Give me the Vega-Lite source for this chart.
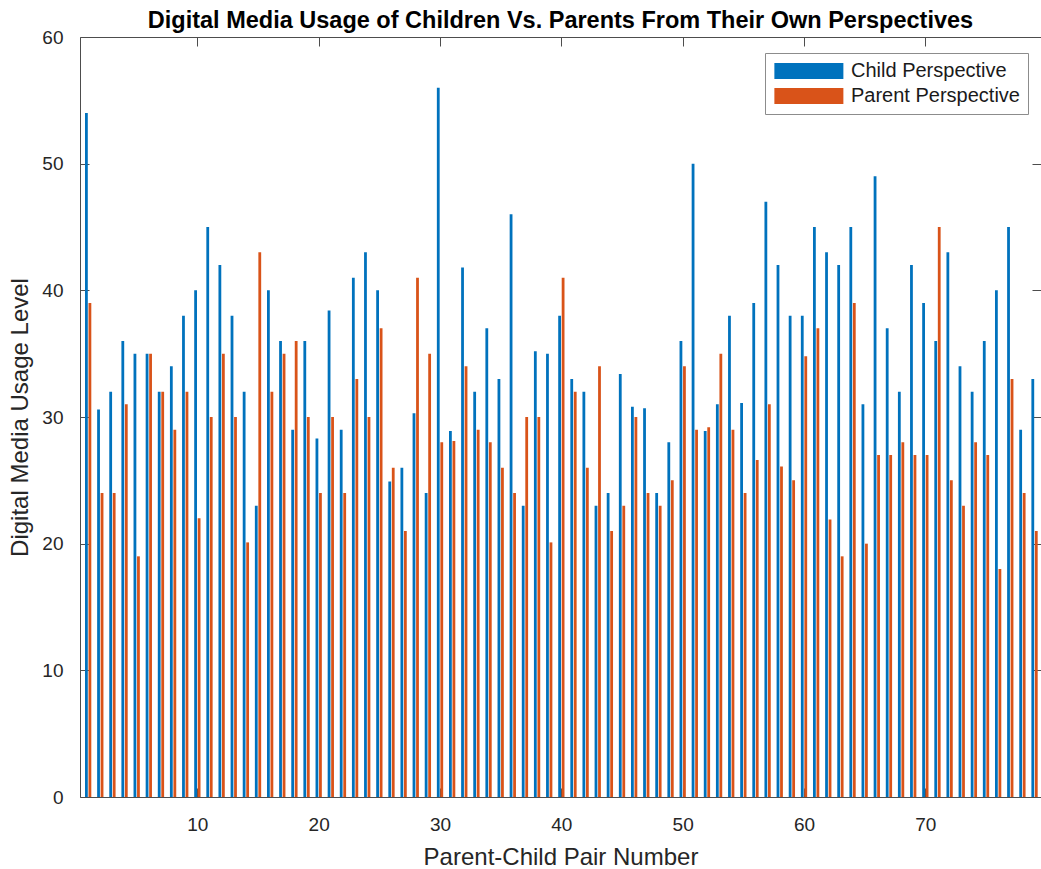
{
  "$schema": "https://vega.github.io/schema/vega-lite/v6.json",
  "width": 961,
  "height": 760,
  "autosize": {"type": "none"},
  "padding": {"left": 80, "top": 37, "right": 0, "bottom": 72},
  "background": "white",
  "config": {
    "view": {"stroke": null},
    "font": "Liberation Sans",
    "axis": {
      "grid": false,
      "domainColor": "#4d4d4d",
      "domainWidth": 1,
      "tickColor": "#4d4d4d",
      "tickWidth": 1,
      "tickSize": -9,
      "labelColor": "#262626",
      "labelFontSize": 19,
      "titleColor": "#262626",
      "titleFontSize": 24,
      "titleFontWeight": "normal"
    }
  },
  "title": {
    "text": "Digital Media Usage of Children Vs. Parents From Their Own Perspectives",
    "fontSize": 23.5,
    "fontWeight": "bold",
    "color": "#000000",
    "anchor": "middle",
    "offset": -4
  },
  "data": {
    "values": [
      {"pair": 1, "child": 54, "parent": 39},
      {"pair": 2, "child": 30.6, "parent": 24},
      {"pair": 3, "child": 32, "parent": 24},
      {"pair": 4, "child": 36, "parent": 31},
      {"pair": 5, "child": 35, "parent": 19},
      {"pair": 6, "child": 35, "parent": 35},
      {"pair": 7, "child": 32, "parent": 32},
      {"pair": 8, "child": 34, "parent": 29},
      {"pair": 9, "child": 38, "parent": 32},
      {"pair": 10, "child": 40, "parent": 22},
      {"pair": 11, "child": 45, "parent": 30},
      {"pair": 12, "child": 42, "parent": 35},
      {"pair": 13, "child": 38, "parent": 30},
      {"pair": 14, "child": 32, "parent": 20.1},
      {"pair": 15, "child": 23, "parent": 43},
      {"pair": 16, "child": 40, "parent": 32},
      {"pair": 17, "child": 36, "parent": 35},
      {"pair": 18, "child": 29, "parent": 36},
      {"pair": 19, "child": 36, "parent": 30},
      {"pair": 20, "child": 28.3, "parent": 24},
      {"pair": 21, "child": 38.4, "parent": 30},
      {"pair": 22, "child": 29, "parent": 24},
      {"pair": 23, "child": 41, "parent": 33},
      {"pair": 24, "child": 43, "parent": 30},
      {"pair": 25, "child": 40, "parent": 37},
      {"pair": 26, "child": 24.9, "parent": 26},
      {"pair": 27, "child": 26, "parent": 21},
      {"pair": 28, "child": 30.3, "parent": 41},
      {"pair": 29, "child": 24, "parent": 35},
      {"pair": 30, "child": 56, "parent": 28},
      {"pair": 31, "child": 28.9, "parent": 28.1},
      {"pair": 32, "child": 41.8, "parent": 34},
      {"pair": 33, "child": 32, "parent": 29},
      {"pair": 34, "child": 37, "parent": 28},
      {"pair": 35, "child": 33, "parent": 26},
      {"pair": 36, "child": 46, "parent": 24},
      {"pair": 37, "child": 23, "parent": 30},
      {"pair": 38, "child": 35.2, "parent": 30},
      {"pair": 39, "child": 35, "parent": 20.1},
      {"pair": 40, "child": 38, "parent": 41},
      {"pair": 41, "child": 33, "parent": 32},
      {"pair": 42, "child": 32, "parent": 26},
      {"pair": 43, "child": 23, "parent": 34},
      {"pair": 44, "child": 24, "parent": 21},
      {"pair": 45, "child": 33.4, "parent": 23},
      {"pair": 46, "child": 30.8, "parent": 30},
      {"pair": 47, "child": 30.7, "parent": 24},
      {"pair": 48, "child": 24, "parent": 23},
      {"pair": 49, "child": 28, "parent": 25},
      {"pair": 50, "child": 36, "parent": 34},
      {"pair": 51, "child": 50, "parent": 29},
      {"pair": 52, "child": 28.9, "parent": 29.2},
      {"pair": 53, "child": 31, "parent": 35},
      {"pair": 54, "child": 38, "parent": 29},
      {"pair": 55, "child": 31.1, "parent": 24},
      {"pair": 56, "child": 39, "parent": 26.6},
      {"pair": 57, "child": 47, "parent": 31},
      {"pair": 58, "child": 42, "parent": 26.1},
      {"pair": 59, "child": 38, "parent": 25},
      {"pair": 60, "child": 38, "parent": 34.8},
      {"pair": 61, "child": 45, "parent": 37},
      {"pair": 62, "child": 43, "parent": 21.9},
      {"pair": 63, "child": 42, "parent": 19},
      {"pair": 64, "child": 45, "parent": 39},
      {"pair": 65, "child": 31, "parent": 20},
      {"pair": 66, "child": 49, "parent": 27},
      {"pair": 67, "child": 37, "parent": 27},
      {"pair": 68, "child": 32, "parent": 28},
      {"pair": 69, "child": 42, "parent": 27},
      {"pair": 70, "child": 39, "parent": 27},
      {"pair": 71, "child": 36, "parent": 45},
      {"pair": 72, "child": 43, "parent": 25},
      {"pair": 73, "child": 34, "parent": 23},
      {"pair": 74, "child": 32, "parent": 28},
      {"pair": 75, "child": 36, "parent": 27},
      {"pair": 76, "child": 40, "parent": 18},
      {"pair": 77, "child": 45, "parent": 33},
      {"pair": 78, "child": 29, "parent": 24},
      {"pair": 79, "child": 33, "parent": 21}
    ]
  },
  "layer": [
    {
      "mark": {"type": "bar", "orient": "vertical", "size": 2.8, "xOffset": -1.75, "clip": true},
      "encoding": {
        "x": {
          "field": "pair",
          "type": "quantitative",
          "scale": {"domain": [0.74, 79.12], "nice": false, "zero": false},
          "axis": {
            "orient": "bottom",
            "values": [10, 20, 30, 40, 50, 60, 70],
            "title": "Parent-Child Pair Number",
            "labelPadding": 27,
            "titlePadding": 11
          }
        },
        "y": {
          "field": "child",
          "type": "quantitative",
          "scale": {"domain": [0, 60], "nice": false},
          "axis": {
            "orient": "left",
            "values": [0, 10, 20, 30, 40, 50, 60],
            "title": "Digital Media Usage Level",
            "labelPadding": 26,
            "titlePadding": 9
          }
        },
        "color": {
          "datum": "Child Perspective",
          "type": "nominal",
          "scale": {
            "domain": ["Child Perspective", "Parent Perspective"],
            "range": ["#0072BD", "#D95319"]
          },
          "legend": {
            "title": null,
            "orient": "none",
            "legendX": 685,
            "legendY": 16,
            "fillColor": "#ffffff",
            "strokeColor": "#8c8c8c",
            "padding": 8,
            "rowPadding": 5,
            "symbolType": "M-1,-0.92H7V0.92H-1Z",
            "symbolSize": 297.6,
            "symbolStrokeWidth": 0,
            "symbolOpacity": 1,
            "labelOffset": 58,
            "labelFontSize": 20,
            "labelLimit": 400,
            "labelColor": "#1a1a1a",
            "labelFont": "Liberation Sans"
          }
        }
      }
    },
    {
      "mark": {"type": "bar", "orient": "vertical", "size": 2.8, "xOffset": 1.75, "clip": true},
      "encoding": {
        "x": {
          "field": "pair",
          "type": "quantitative",
          "scale": {"domain": [0.74, 79.12], "nice": false, "zero": false},
          "axis": {
            "orient": "top",
            "values": [10, 20, 30, 40, 50, 60, 70],
            "labels": false,
            "title": null
          }
        },
        "y": {
          "field": "parent",
          "type": "quantitative",
          "scale": {"domain": [0, 60], "nice": false},
          "axis": {
            "orient": "right",
            "values": [0, 10, 20, 30, 40, 50, 60],
            "labels": false,
            "title": null
          }
        },
        "color": {"datum": "Parent Perspective", "type": "nominal"}
      }
    }
  ],
  "resolve": {"axis": {"x": "independent", "y": "independent"}}
}
